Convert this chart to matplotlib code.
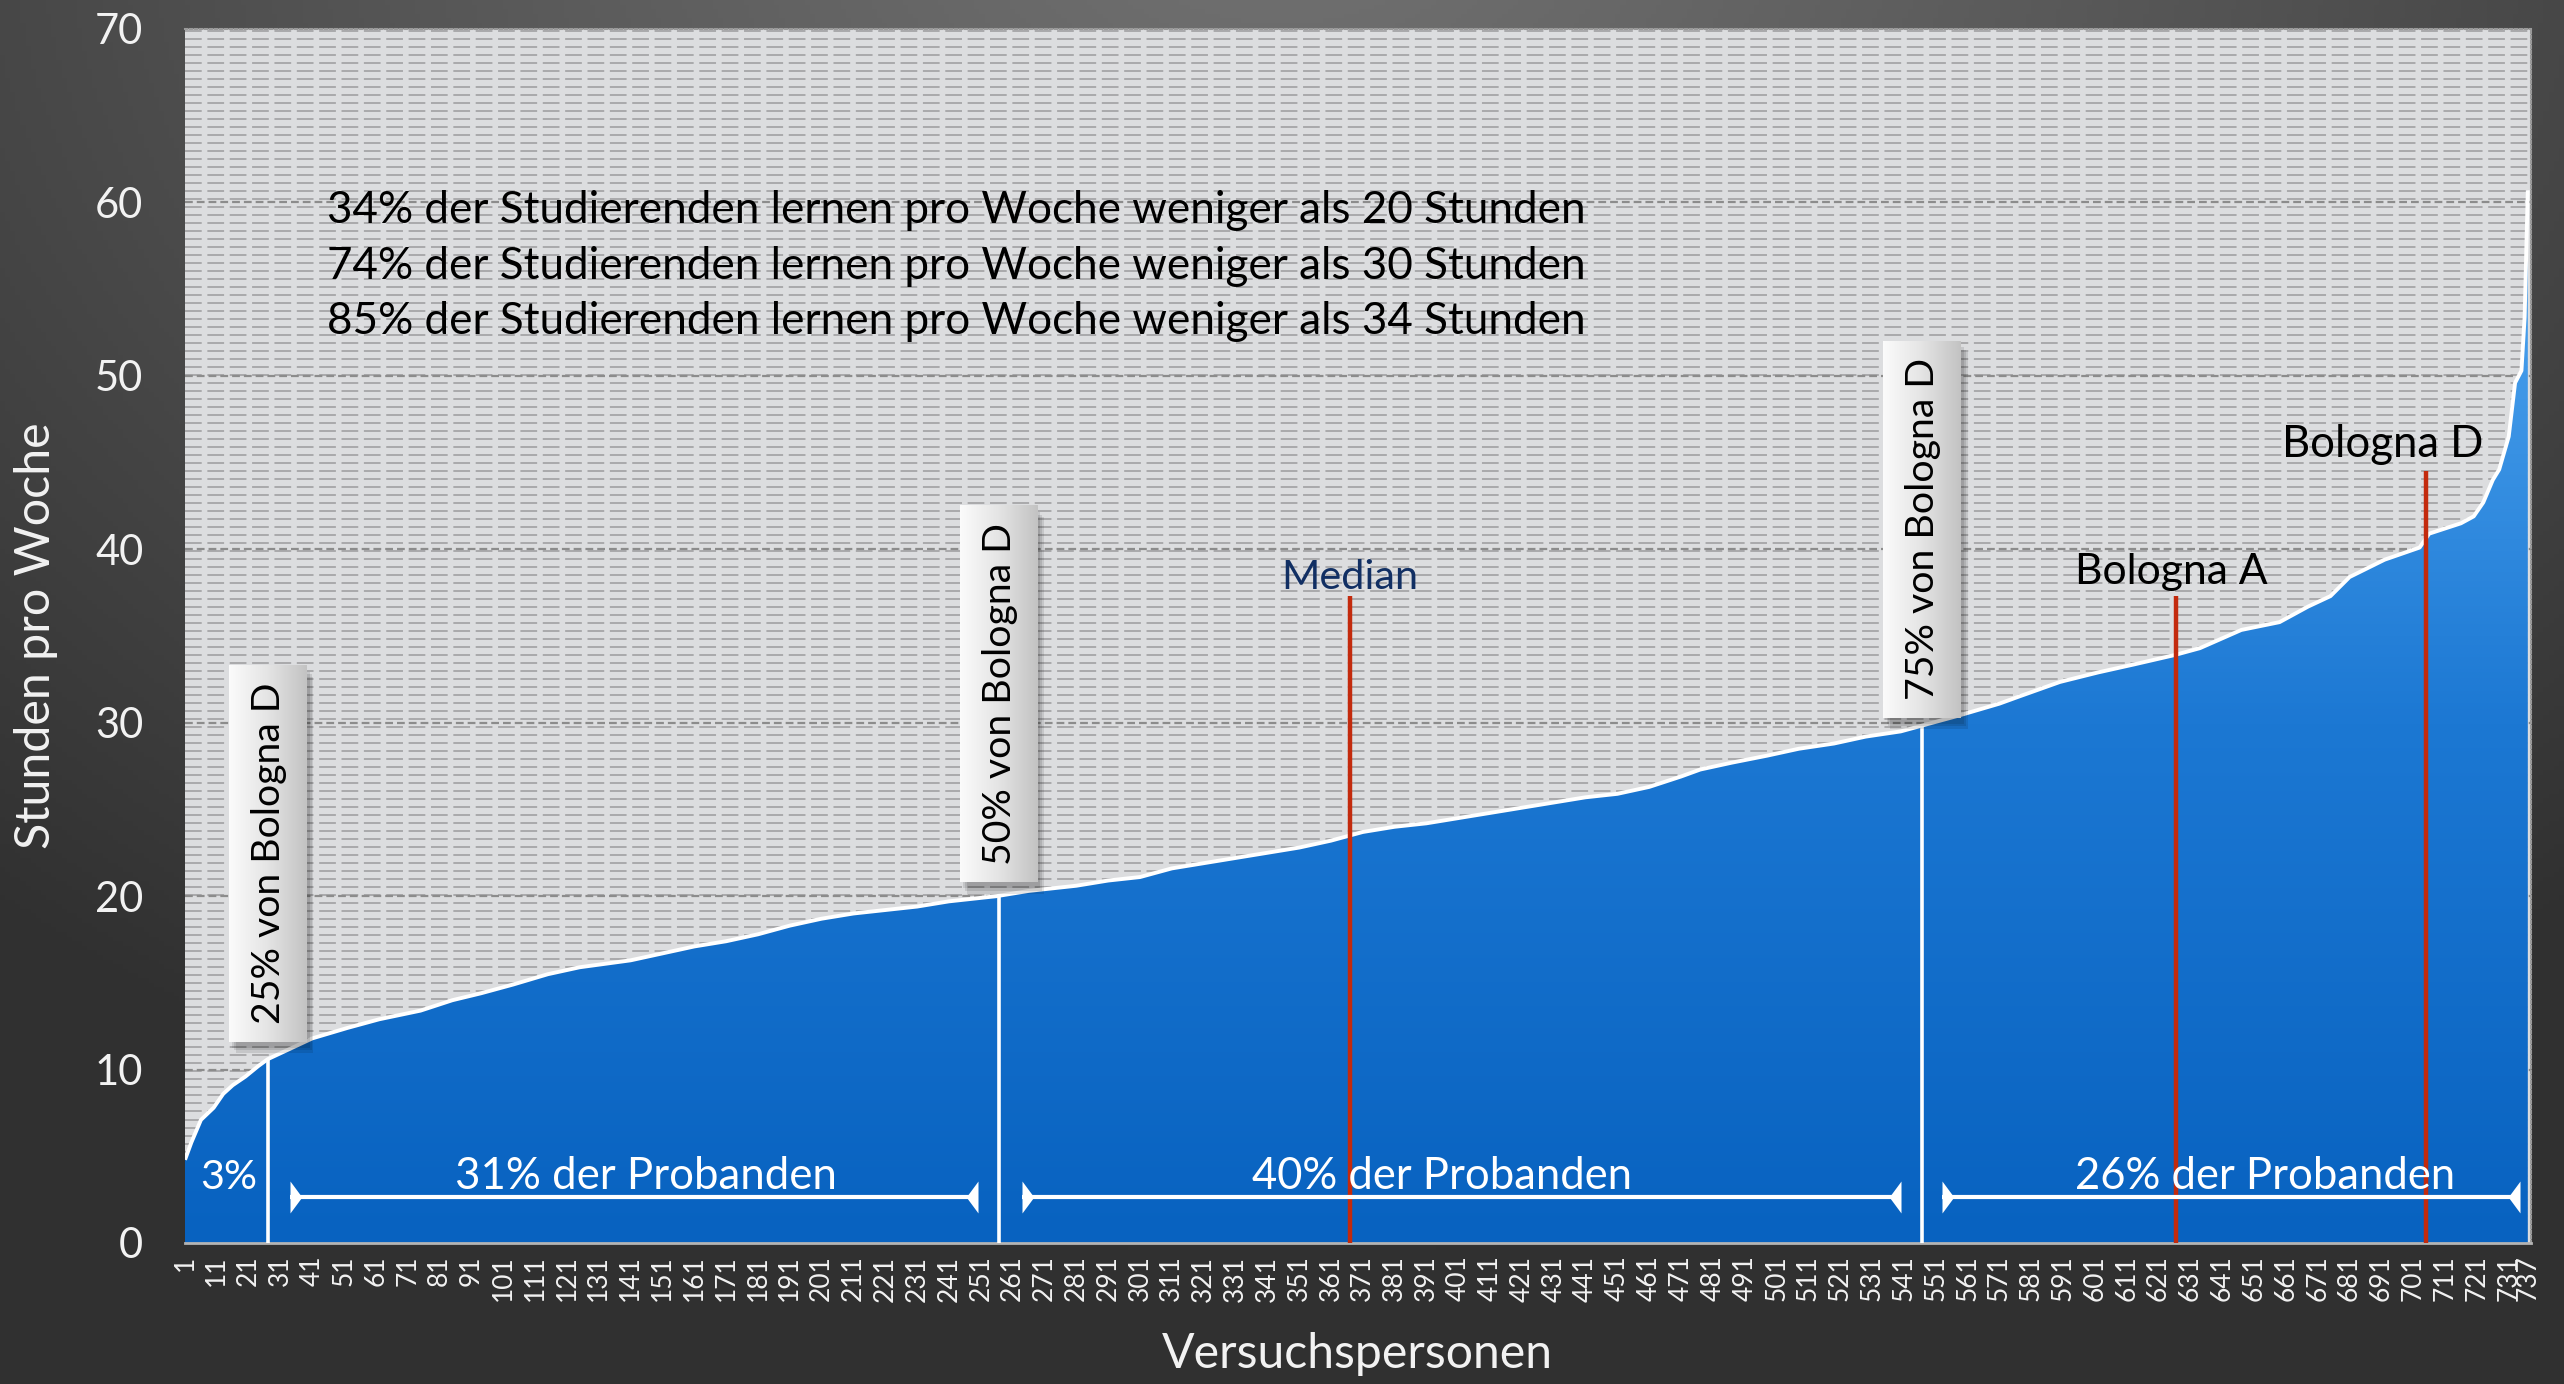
import numpy as np
import matplotlib
matplotlib.use("Agg")
import matplotlib.pyplot as plt
from matplotlib.colors import LinearSegmentedColormap, Normalize
from matplotlib.patches import Polygon, Rectangle

# ---------------- data ----------------
participants = [1, 3, 6, 10, 13, 16, 20, 24, 27, 34, 41, 52, 62, 75, 85, 94, 104, 115, 125,
                141, 151, 161, 171, 181, 191, 201, 211, 221, 231, 241, 256, 266, 281, 291,
                301, 311, 321, 331, 341, 351, 361, 371, 381, 391, 401, 411, 421, 431, 441,
                451, 461, 471, 477, 487, 498, 508, 519, 529, 540, 548, 558, 571, 577, 590,
                602, 613, 626, 634, 647, 659, 668, 675, 681, 692, 703, 706, 716, 720, 723,
                726, 728, 731, 733, 735, 736, 737]
hours = [4.8, 5.8, 7.1, 7.8, 8.6, 9.1, 9.6, 10.2, 10.6, 11.2, 11.8, 12.4, 12.9, 13.4, 14.0,
         14.4, 14.9, 15.5, 15.9, 16.3, 16.7, 17.1, 17.4, 17.8, 18.3, 18.7, 19.0, 19.2, 19.4,
         19.7, 20.0, 20.3, 20.6, 20.9, 21.1, 21.6, 21.9, 22.2, 22.5, 22.8, 23.2, 23.7, 24.0,
         24.2, 24.5, 24.8, 25.1, 25.4, 25.7, 25.9, 26.3, 26.9, 27.3, 27.7, 28.1, 28.5, 28.8,
         29.2, 29.5, 29.9, 30.4, 31.1, 31.5, 32.35, 32.9, 33.35, 33.9, 34.3, 35.35, 35.8,
         36.7, 37.3, 38.4, 39.4, 40.1, 40.9, 41.5, 41.9, 42.7, 44.0, 44.6, 46.5, 49.6, 50.3,
         53.4, 60.7]

tick_positions = list(range(1, 732, 10)) + [737]
tick_labels = [str(t) for t in tick_positions]
y_ticks = [0, 10, 20, 30, 40, 50, 60, 70]

summary_lines = [
    "34% der Studierenden lernen pro Woche weniger als 20 Stunden",
    "74% der Studierenden lernen pro Woche weniger als 30 Stunden",
    "85% der Studierenden lernen pro Woche weniger als 34 Stunden",
]

share_labels = ["25% von Bologna D", "50% von Bologna D", "75% von Bologna D"]
share_positions = [27, 256.6, 546.7]
share_box_bottoms = [11.6, 20.8, 30.3]

ref_labels = ["Median", "Bologna A", "Bologna D"]
ref_positions = [367, 626.5, 705]
ref_tops = [37.3, 37.3, 44.5]
ref_label_x = [367, 625, 691.5]
ref_label_y = [37.7, 38.0, 45.3]
ref_label_colors = ["#112f63", "black", "black"]

group_labels = ["3%", "31% der Probanden", "40% der Probanden", "26% der Probanden"]
group_label_x = [14.9, 145.8, 395.8, 654.5]
arrow_spans = [(33.9, 250), (264, 540), (553, 734.6)]

FONT = "Lato"
W, H = 2564, 1384
fig = plt.figure(figsize=(W / 100, H / 100), dpi=100)

# ---------------- figure background (radial gray) ----------------
bg_ax = fig.add_axes([0, 0, 1, 1], zorder=-10)
yy, xx = np.mgrid[0:1:300j, 0:1:500j]
r = np.sqrt(((xx - 0.5) / 0.75) ** 2 + ((yy - 1.08) / 1.0) ** 2)
t = np.clip(r, 0, 1) ** 1.1
c_center = np.array([0x72, 0x72, 0x72]) / 255
c_edge = np.array([0x30, 0x30, 0x30]) / 255
img = c_center[None, None, :] * (1 - t[..., None]) + c_edge[None, None, :] * t[..., None]
bg_ax.imshow(img, extent=[0, 1, 0, 1], origin="lower", aspect="auto")
bg_ax.set_axis_off()

# ---------------- main axes ----------------
x0, x1 = 185 / W, 2531 / W
y0, y1 = 1 - 1243 / H, 1 - 29 / H
ax = fig.add_axes([x0, y0, x1 - x0, y1 - y0])
ax.set_facecolor("#dcdddf")
XMIN, XMAX, YMIN, YMAX = 1, 738.0, 0, 70

# hatch pattern of the plot area
hatch_y = np.arange(0.2, 70, 0.4614)
ax.hlines(hatch_y, XMIN, XMAX, colors="#a9a9ab", linewidth=1.4,
          linestyles=[(0, (8.6, 2.9))], zorder=0.5)
ax.hlines(y_ticks[1:-1], XMIN, XMAX, colors="#8c8c8c", linewidth=1.6,
          linestyles=[(0, (3.5, 1.8))], zorder=0.6)

# blue gradient fill under the curve
blue = LinearSegmentedColormap.from_list("b", ["#0862c0", "#1c78d3", "#52a8f2"])
grad = np.linspace(0, 70, 400)[:, None]
im = ax.imshow(grad, extent=[XMIN, XMAX, 0, 70], origin="lower", aspect="auto",
               cmap=blue, norm=Normalize(0, 60), zorder=2)
verts = list(zip(participants, hours)) + [(participants[-1], 0), (XMIN, 0)]
clip = Polygon(verts, closed=True, facecolor="none", edgecolor="none", transform=ax.transData)
ax.add_patch(clip)
im.set_clip_path(clip)
ax.plot(participants, hours, color="white", lw=2.8, zorder=4, solid_joinstyle="round",
        solid_capstyle="butt")

# white share lines
for p in share_positions:
    top = np.interp(p, participants, hours)
    ax.plot([p, p], [0, top], color="white", lw=2.6, zorder=5, solid_capstyle="butt")

# red reference lines
for p, top in zip(ref_positions, ref_tops):
    ax.plot([p, p], [0, top], color="#c32a0d", lw=3.2, zorder=5, solid_capstyle="butt")

texts_fit = []

# boxes with rotated labels
box_w, box_h = 24.3, 21.7
gray = LinearSegmentedColormap.from_list("g", ["#fbfbfb", "#e4e4e4", "#c3c3c3"])
for lab, p, b in zip(share_labels, share_positions, share_box_bottoms):
    bx0, bx1 = p - box_w / 2, p + box_w / 2
    for k, a in enumerate([0.10, 0.10, 0.10]):
        ax.add_patch(Rectangle((bx0 + 1.0 + k * 0.6, b - 0.35 - k * 0.15), box_w, box_h,
                               facecolor="black", alpha=a, edgecolor="none", zorder=6))
    ax.imshow(np.linspace(0, 1, 64)[None, :], extent=[bx0, bx1, b, b + box_h],
              aspect="auto", cmap=gray, zorder=7, origin="lower")
    tt = ax.text(p + 0.3, b + box_h / 2, lab, rotation=90, ha="center", va="center",
                 fontsize=28, family=FONT, color="black", zorder=8)
    texts_fit.append((tt, 342, "h"))

for lab, lx, ly, c in zip(ref_labels, ref_label_x, ref_label_y, ref_label_colors):
    tt = ax.text(lx, ly, lab, ha="center", va="baseline", fontsize=28, family=FONT,
                 color=c, zorder=8)
    texts_fit.append((tt, {"Median": 137, "Bologna A": 193, "Bologna D": 201}[lab], "w"))

# group labels and arrows
for lab, lx in zip(group_labels, group_label_x):
    tt = ax.text(lx, 3.1, lab, ha="center", va="baseline", fontsize=28, family=FONT,
                 color="white", zorder=8)
    texts_fit.append((tt, 57 if lab == "3%" else 381, "w"))

right_tri = [(0, -1), (0, 1), (0.74, 0), (0, -1)]
left_tri = [(0, -1), (0, 1), (-0.74, 0), (0, -1)]
for a, b in arrow_spans:
    ax.plot([a, b], [2.64, 2.64], color="white", lw=3.0, zorder=8, solid_capstyle="butt")
    ax.plot([a], [2.64], marker=right_tri, markersize=23, color="white", mew=0, zorder=8)
    ax.plot([b], [2.64], marker=left_tri, markersize=23, color="white", mew=0, zorder=8)

# summary text
for i, line in enumerate(summary_lines):
    tt = ax.text(45.6, 58.8 - 3.2 * i, line, ha="left", va="baseline", fontsize=28,
                 family=FONT, color="black", zorder=8)
    texts_fit.append((tt, 1259, "w"))

# axes styling
ax.set_xlim(XMIN, XMAX)
ax.set_ylim(YMIN, YMAX)
ax.set_xticks(tick_positions)
ax.set_xticklabels(tick_labels, rotation=90, family=FONT, fontsize=19, color="#f2f2f2")
ax.set_yticks(y_ticks)
ax.set_yticklabels([str(v) for v in y_ticks], family=FONT, fontsize=30, color="#f2f2f2")
ax.tick_params(axis="x", length=0, pad=9)
ax.tick_params(axis="y", length=0, pad=30)
ax.spines["left"].set_visible(False)
for s in ["top", "right"]:
    ax.spines[s].set_color("#9a9a9a")
    ax.spines[s].set_linestyle((0, (1.2, 1.2)))
    ax.spines[s].set_linewidth(1.5)
ax.spines["bottom"].set_color("#b4b4b4")
ax.spines["bottom"].set_linewidth(2.0)

yl = fig.text(36 / W, 1 - 636 / H, "Stunden pro Woche", rotation=90, ha="center",
              va="center", family=FONT, fontsize=32, color="#f2f2f2")
xl = fig.text(1357 / W, 1 - 1354 / H, "Versuchspersonen", ha="center", va="center",
              family=FONT, fontsize=32, color="#f2f2f2")
texts_fit.append((yl, 428, "h"))
texts_fit.append((xl, 392, "w"))

# fit text sizes to the measured extents of the reference
fig.canvas.draw()
rend = fig.canvas.get_renderer()
for tt, target, dim in texts_fit:
    bb = tt.get_window_extent(rend)
    cur = bb.width if dim == "w" else bb.height
    if cur > 0:
        tt.set_fontsize(tt.get_fontsize() * target / cur)

fig.savefig("out.png", dpi=100)
